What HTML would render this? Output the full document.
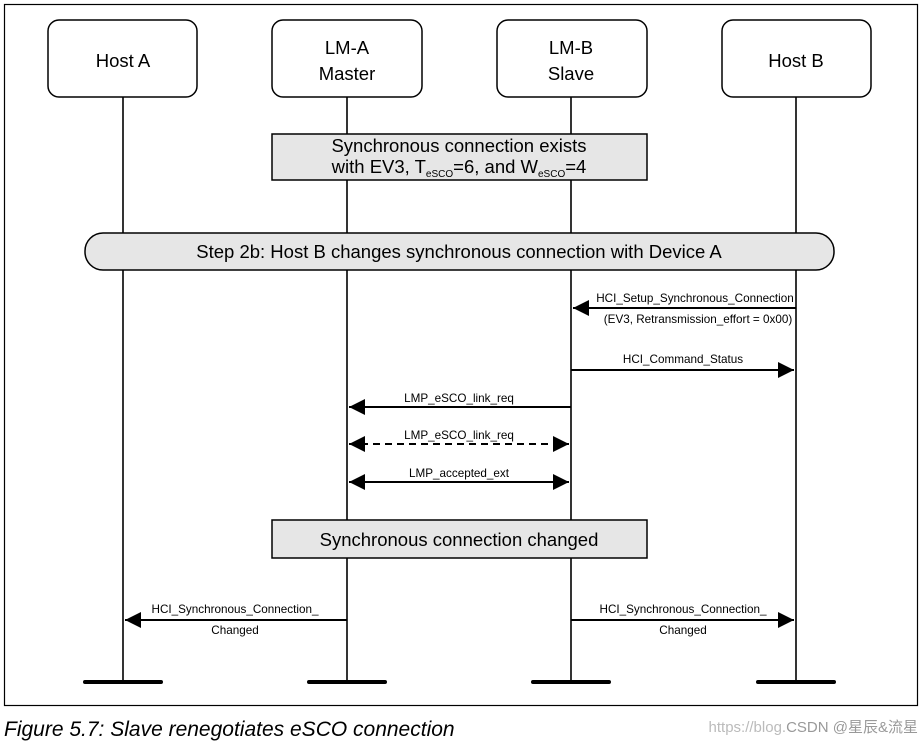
<!DOCTYPE html>
<html><head><meta charset="utf-8"><style>
html,body{margin:0;padding:0;background:#fff;}
svg{display:block;}
text{font-family:"Liberation Sans",Arial,sans-serif;fill:#000;}
</style></head><body>
<svg width="922" height="743" viewBox="0 0 922 743" xmlns="http://www.w3.org/2000/svg">
<defs>
<marker id="ah" viewBox="0 0 10 10" refX="10" refY="5" markerWidth="20" markerHeight="16" markerUnits="userSpaceOnUse" orient="auto-start-reverse">
<path d="M0,0 L10,5 L0,10 z" fill="#000"/></marker>
</defs>
<rect x="4.5" y="4.5" width="913" height="701" fill="#fff" stroke="#000" stroke-width="1.2"/>
<g stroke="#000" stroke-width="1.6">
<line x1="123" y1="97" x2="123" y2="682"/>
<line x1="347" y1="97" x2="347" y2="682"/>
<line x1="571" y1="97" x2="571" y2="682"/>
<line x1="796" y1="97" x2="796" y2="682"/>
</g>
<g stroke="#000" stroke-width="4" stroke-linecap="round">
<line x1="85" y1="682" x2="161" y2="682"/>
<line x1="309" y1="682" x2="385" y2="682"/>
<line x1="533" y1="682" x2="609" y2="682"/>
<line x1="758" y1="682" x2="834" y2="682"/>
</g>
<g fill="#fff" stroke="#000" stroke-width="1.5">
<rect x="48" y="20" width="149" height="77" rx="11"/>
<rect x="272" y="20" width="150" height="77" rx="11"/>
<rect x="497" y="20" width="150" height="77" rx="11"/>
<rect x="722" y="20" width="149" height="77" rx="11"/>
</g>
<g font-size="18.5" text-anchor="middle">
<text x="123" y="67">Host A</text>
<text x="347" y="54">LM-A</text><text x="347" y="80">Master</text>
<text x="571" y="54">LM-B</text><text x="571" y="80">Slave</text>
<text x="796" y="67">Host B</text>
</g>
<rect x="272" y="134" width="375" height="46" fill="#e6e6e6" stroke="#000" stroke-width="1.5"/>
<text x="459" y="152" font-size="18.5" text-anchor="middle">Synchronous connection exists</text>
<text x="459" y="173" font-size="18.5" text-anchor="middle">with EV3, T<tspan font-size="10" dy="4">eSCO</tspan><tspan dy="-4">=6, and W</tspan><tspan font-size="10" dy="4">eSCO</tspan><tspan dy="-4">=4</tspan></text>
<rect x="85" y="233" width="749" height="37" rx="18" fill="#e6e6e6" stroke="#000" stroke-width="1.5"/>
<text x="459" y="258" font-size="18.5" text-anchor="middle">Step 2b: Host B changes synchronous connection with Device A</text>
<g stroke="#000" stroke-width="2" fill="none">
<line x1="796" y1="308" x2="573" y2="308" marker-end="url(#ah)"/>
<line x1="571" y1="370" x2="794" y2="370" marker-end="url(#ah)"/>
<line x1="571" y1="407" x2="349" y2="407" marker-end="url(#ah)"/>
<line x1="349" y1="444" x2="569" y2="444" stroke-dasharray="7,5" marker-start="url(#ah)" marker-end="url(#ah)"/>
<line x1="349" y1="482" x2="569" y2="482" marker-start="url(#ah)" marker-end="url(#ah)"/>
<line x1="347" y1="620" x2="125" y2="620" marker-end="url(#ah)"/>
<line x1="571" y1="620" x2="794" y2="620" marker-end="url(#ah)"/>
</g>
<g font-size="11.7" text-anchor="middle">
<text x="695" y="302">HCI_Setup_Synchronous_Connection</text>
<text x="698" y="323">(EV3, Retransmission_effort = 0x00)</text>
<text x="683" y="363">HCI_Command_Status</text>
<text x="459" y="402">LMP_eSCO_link_req</text>
<text x="459" y="439">LMP_eSCO_link_req</text>
<text x="459" y="477">LMP_accepted_ext</text>
<text x="235" y="613">HCI_Synchronous_Connection_</text>
<text x="235" y="634">Changed</text>
<text x="683" y="613">HCI_Synchronous_Connection_</text>
<text x="683" y="634">Changed</text>
</g>
<rect x="272" y="520" width="375" height="38" fill="#e6e6e6" stroke="#000" stroke-width="1.5"/>
<text x="459" y="546" font-size="18.5" text-anchor="middle">Synchronous connection changed</text>
<text x="4" y="736" font-size="21" font-style="italic">Figure 5.7:  Slave renegotiates eSCO connection</text>
<text x="918" y="732" font-size="15" text-anchor="end" style="fill:#bbb">https://blog.<tspan style="fill:#999">CSDN @星辰&amp;流星</tspan></text>
</svg>
</body></html>
